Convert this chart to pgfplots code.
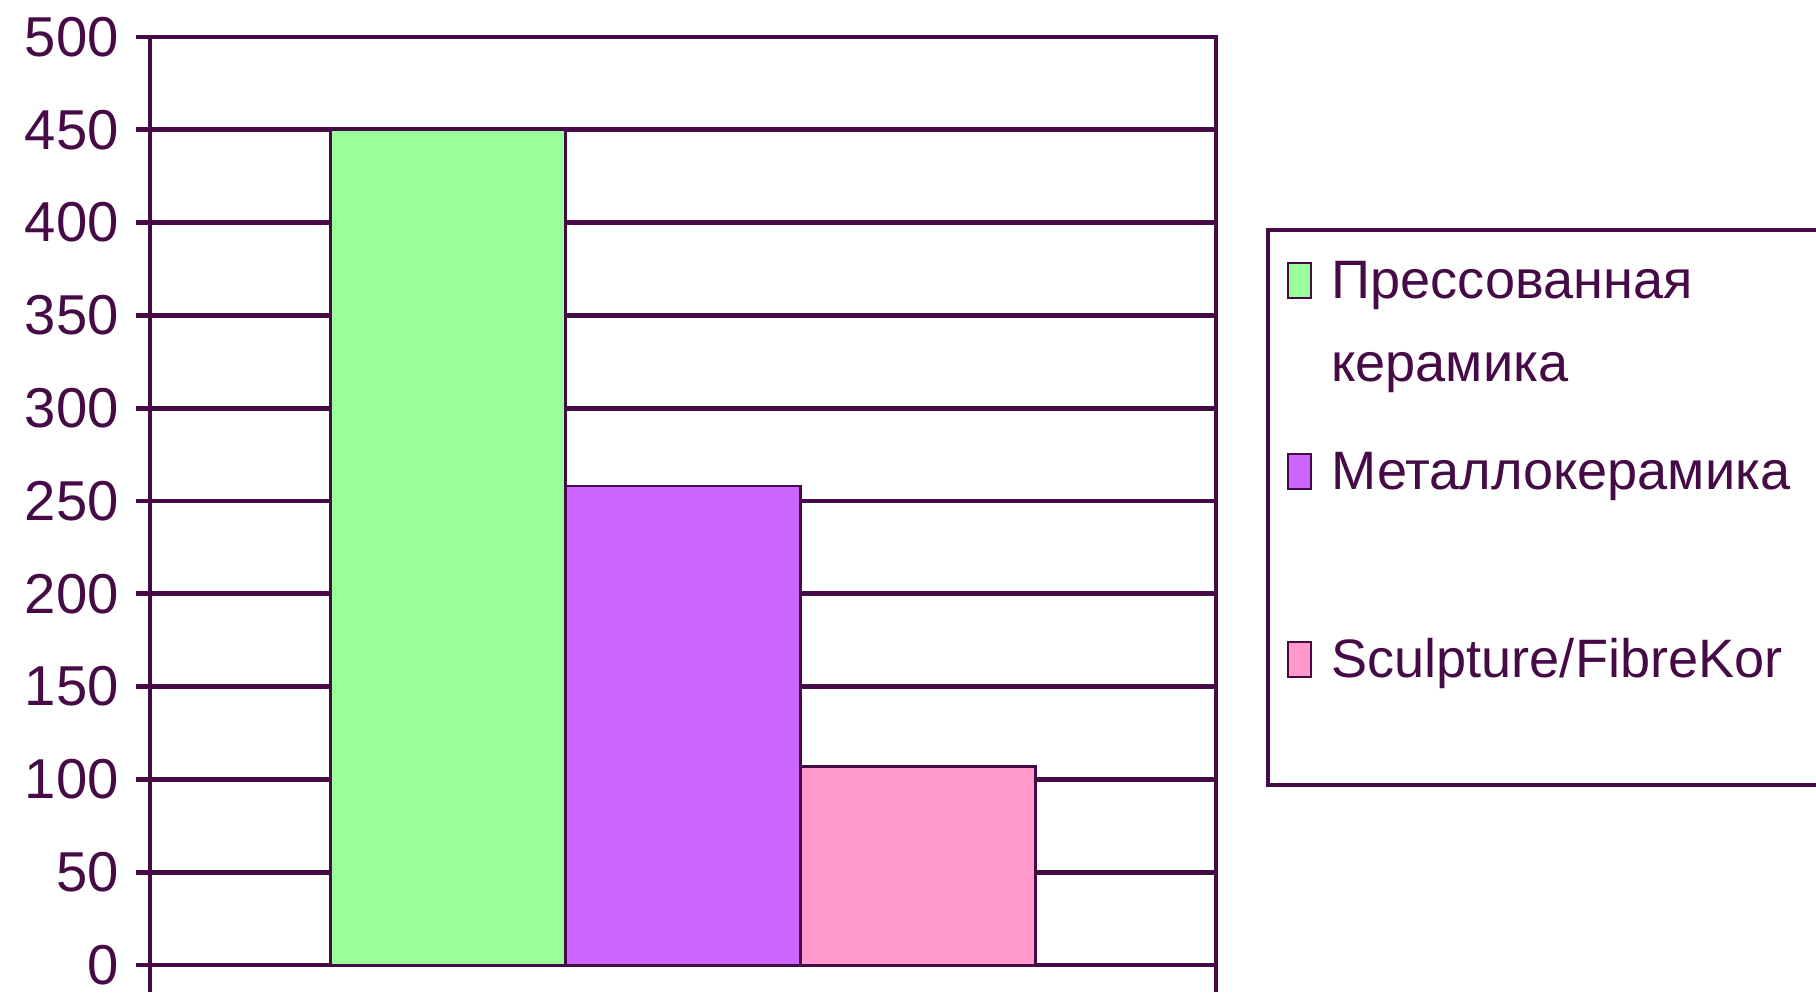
\documentclass[border=0pt]{standalone}
\usepackage{pgfplots}
\pgfplotsset{compat=1.18}
\usepackage{fontspec}
\setmainfont{Liberation Sans}
\definecolor{ink}{RGB}{70,10,70}
\definecolor{barG}{RGB}{153,255,153}
\definecolor{barP}{RGB}{204,102,255}
\definecolor{barR}{RGB}{255,153,204}
\begin{document}
\begin{tikzpicture}
\begin{axis}[
  scale only axis, width=10.66cm, height=9.28cm,
  xmin=-1.268, xmax=3.268, ymin=0, ymax=500,
  ytick={0,50,...,500},
  xtick={-1.268,3.268}, xticklabels={},
  tick align=outside, tick pos=left,
  major tick length=0.14cm,
  xtick style={/pgfplots/major tick length=0.27cm, line width=1pt, ink},
  ytick style={line width=1.4pt, ink},
  ymajorgrids, grid style={line width=1.4pt, ink},
  axis line style={line width=1pt, ink},
  tick label style={font=\fontsize{16}{19}\selectfont, text=ink},
  yticklabel style={xshift=-0.05cm},
  /pgf/number format/assume math mode=true,
  legend style={at={(1.047,0.794)}, anchor=north west, draw=ink, line width=1pt,
    inner xsep=0.19cm, inner ysep=0.31cm, text=ink,
    font=\fontsize{15.4}{23.6}\selectfont,
    nodes={inner sep=0pt, text depth=},
    cells={anchor=base west},
    /tikz/every odd column/.append style={column sep=0.19cm}, row sep=0pt},
  bars/.style={ybar, bar width=1, bar shift=0pt, draw=ink, line width=0.7pt,
    legend image code/.code={\draw[##1, line width=0.7pt] (0cm,0cm) rectangle (0.23cm,0.35cm);}},
]
\addplot[bars, fill=barG] coordinates {(0,450)};
\addlegendentry{\parbox[t][1.91cm][t]{4.75cm}{Прессованная\\керамика}}
\addplot[bars, fill=barP] coordinates {(1,258)};
\addlegendentry{\parbox[t][1.86cm][t]{4.75cm}{Металлокерамика}}
\addplot[bars, fill=barR] coordinates {(2,107)};
\addlegendentry{\parbox[t][1.16cm][t]{4.75cm}{Sculpture/FibreKor}}
\end{axis}
\pgfresetboundingbox
\path ([shift={(-1.50cm,-0.27cm)}]current axis.south west) rectangle ([shift={(16.66cm,9.65cm)}]current axis.south west);
\end{tikzpicture}
\end{document}
